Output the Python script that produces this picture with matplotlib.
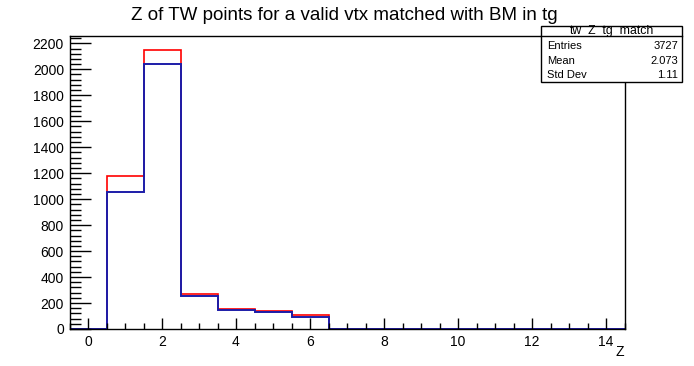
import matplotlib
matplotlib.use("Agg")
import matplotlib.pyplot as plt
import numpy as np
from matplotlib.ticker import MultipleLocator

plt.rcParams['font.family'] = ['Liberation Sans', 'DejaVu Sans']

bin_edges = np.arange(-0.5, 15.0, 1.0)
red_counts = [0, 1181, 2149, 270, 154, 137, 106, 0, 0, 0, 0, 0, 0, 0, 0]
blue_counts = [0, 1055, 2044, 257, 147, 129, 95, 0, 0, 0, 0, 0, 0, 0, 0]
title = "Z of TW points for a valid vtx matched with BM in tg"
stats_name = "tw_Z_tg_match"
stats_labels = ["Entries", "Mean", "Std Dev"]
stats_values = ["3727", "2.073", "1.11"]

W, H = 694, 366
fig = plt.figure(figsize=(W/100, H/100), dpi=100)
ax = fig.add_axes([69.5/W, (H-329)/H, (624.5-69.5)/W, (329-36)/H])

ax.stairs(red_counts, bin_edges, color='#ff0000', lw=1.2)
ax.stairs(blue_counts, bin_edges, color='#1c1ca8', lw=1.4)

ax.set_xlim(-0.5, 14.5)
ax.set_ylim(0, 1.05*max(red_counts))
ax.xaxis.set_major_locator(MultipleLocator(2))
ax.xaxis.set_minor_locator(MultipleLocator(0.5))
ax.yaxis.set_major_locator(MultipleLocator(200))
ax.yaxis.set_minor_locator(MultipleLocator(40))
ax.tick_params(axis='both', which='both', direction='in', top=False, right=False,
               labelsize=10, width=1, colors='black')
ax.tick_params(axis='y', which='major', length=15, pad=4)
ax.tick_params(axis='y', which='minor', length=8)
ax.tick_params(axis='x', which='major', length=8, pad=4)
ax.tick_params(axis='x', which='minor', length=4)
for s in ax.spines.values():
    s.set_linewidth(1)

fig.text(344/W, 1-16/H, title, ha='center', va='center', fontsize=13.5)
fig.text(624/W, 1-352/H, "Z", ha='right', va='center', fontsize=10)

# stats box
bx0, bx1, by0, by1 = 541, 682, 26, 82
box = plt.Rectangle((bx0/W, 1-by1/H), (bx1-bx0)/W, (by1-by0)/H, transform=fig.transFigure,
                    facecolor='white', edgecolor='black', lw=1, zorder=5)
fig.add_artist(box)
fig.add_artist(plt.Line2D([bx0/W, bx1/W], [1-36/H, 1-36/H], transform=fig.transFigure,
                          color='black', lw=1, zorder=6))
fig.text((bx0+bx1)/2/W, 1-31/H, stats_name, ha='center', va='center', fontsize=8.8, zorder=7)
for i, (lab, val) in enumerate(zip(stats_labels, stats_values)):
    y = 1-(46+14.7*i)/H
    fig.text((bx0+6)/W, y, lab, ha='left', va='center', fontsize=8, zorder=7)
    fig.text((bx1-4)/W, y, val, ha='right', va='center', fontsize=8, zorder=7)

fig.savefig("out.png", dpi=100)
